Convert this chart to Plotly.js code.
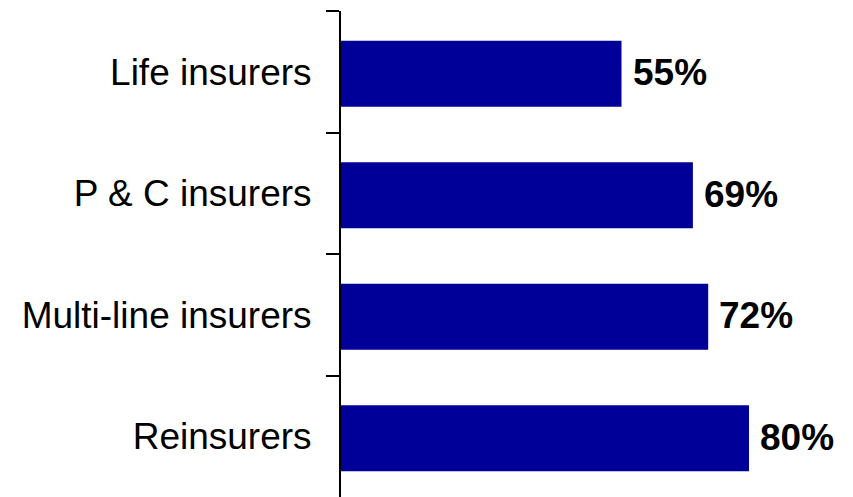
<!DOCTYPE html>
<html>
<head>
<meta charset="utf-8">
<script src="https://cdn.plot.ly/plotly-3.0.1.min.js"></script>
<style>html,body{margin:0;padding:0;background:#fff;}#chart{width:853px;height:497px;}</style>
</head>
<body>
<div id="chart"></div>
<script>
var categories = ["Life insurers", "P & C insurers", "Multi-line insurers", "Reinsurers"];
var values = [55, 69, 72, 80];
var valueLabels = ["55%", "69%", "72%", "80%"];

var FONT = "Liberation Sans, Arial, sans-serif";

var annotations = categories.map(function (c, i) {
  return {
    x: values[i], y: c, xref: "x", yref: "y",
    text: "<b>" + valueLabels[i] + "</b>",
    showarrow: false, xanchor: "left", yanchor: "middle",
    xshift: 9, yshift: -1,
    font: {family: FONT, size: 37, color: "#000"}
  };
});

var trace = {
  type: "bar",
  orientation: "h",
  x: values,
  y: categories,
  width: 0.543,
  offset: -0.255,
  marker: {color: "#000099", line: {width: 0}},
  hoverinfo: "none"
};

var layout = {
  width: 853, height: 497,
  margin: {l: 341, r: 2, t: 11, b: 0, pad: 0},
  paper_bgcolor: "#fff", plot_bgcolor: "#fff",
  showlegend: false,
  font: {family: FONT, size: 37, color: "#000"},
  xaxis: {range: [0, 100], visible: false, showgrid: false, zeroline: false, fixedrange: true},
  yaxis: {
    autorange: "reversed",
    showline: true, linecolor: "#000", linewidth: 2,
    ticks: "outside", tickson: "boundaries", ticklen: 13, tickwidth: 2, tickcolor: "#000",
    ticklabelstandoff: 20,
    showgrid: false, zeroline: false,
    tickfont: {family: FONT, size: 37, color: "#000"}
  },
  annotations: annotations
};

Plotly.newPlot("chart", [trace], layout, {displayModeBar: false, staticPlot: true});
</script>
</body>
</html>
